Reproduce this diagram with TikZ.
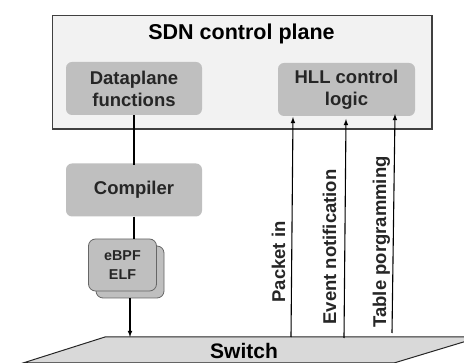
\documentclass[tikz,border=0pt]{standalone}
\usepackage{fontspec}
\setmainfont{Liberation Sans}
\begin{document}
\begin{tikzpicture}[x=1pt,y=-1pt,
    greybox/.style={fill=boxcolor, rounded corners=6pt, minimum width=136pt, minimum height=53pt, align=center, inner sep=0pt, font=\fontsize{18.5}{22}\selectfont\bfseries, text=black!85},
    elfbox/.style={fill=boxcolor, draw=black!60, line width=0.8pt, rounded corners=7pt, minimum width=68pt, minimum height=52pt},
    vlabel/.style={rotate=90, font=\fontsize{18.5}{22}\selectfont\bfseries, text=black!85},
    link/.style={line width=1.1pt}]
    % Define colors
    \definecolor{panelcolor}{RGB}{242,242,242}
    \definecolor{boxcolor}{RGB}{191,191,191}
    \definecolor{switchcolor}{RGB}{217,217,217}
    \clip (0,0) rectangle (464,363);

    % Draw switch
    \filldraw[fill=switchcolor, draw=black!85, line width=1pt] (23,363) -- (105,337) -- (480,337) -- (394,363) -- cycle;
    \node (switch) at (244,351) {\fontsize{21}{24}\selectfont\bfseries Switch};

    % Draw control plane
    \filldraw[fill=panelcolor, draw=black!75, line width=1.1pt] (52.5,15.5) rectangle (432,129);
    \node[font=\fontsize{21.5}{24}\selectfont\bfseries] (plane) at (241.5,33.5) {SDN control plane};
    \node[greybox] (dataplane) at (134,88.5) {Dataplane\\functions};
    \node[greybox, minimum width=137pt] (hll) at (346.5,89.5) {HLL control\\logic};

    % Draw compiler and ELF
    \node[greybox] (compiler) at (134,190) {Compiler};
    \node[elfbox] (elfback) at (130,272) {};
    \node[elfbox, align=center, font=\fontsize{14.3}{19}\selectfont\bfseries, text=black!85] (elf) at (122.5,265) {eBPF\\ELF};

    % Left path
    \draw[link] (dataplane.south) -- ([yshift=-2pt]compiler.north);
    \draw[link] (compiler.south) -- (compiler.south |- elf.north);
    \coordinate (elfin) at (130,337);
    \draw[link, -latex] (elfback.south) -- (elfin);

    % Right arrows
    \coordinate (packetfrom) at (291,337);
    \coordinate (packetto) at (293,117);
    \coordinate (eventfrom) at (344,338);
    \coordinate (eventto) at (346,119);
    \coordinate (tablefrom) at (392,333);
    \coordinate (tableto) at (395,114);
    \draw[link, -latex] (packetfrom) -- (packetto);
    \draw[link, -latex] (eventfrom) -- (eventto);
    \draw[link, -latex] (tablefrom) -- (tableto);

    % Label arrows
    \node[vlabel] (packet) at (278.5,262) {Packet in};
    \node[vlabel] (event) at (329.5,247) {Event notification};
    \node[vlabel] (table) at (381.5,242) {Table porgramming};
\end{tikzpicture}
\end{document}
